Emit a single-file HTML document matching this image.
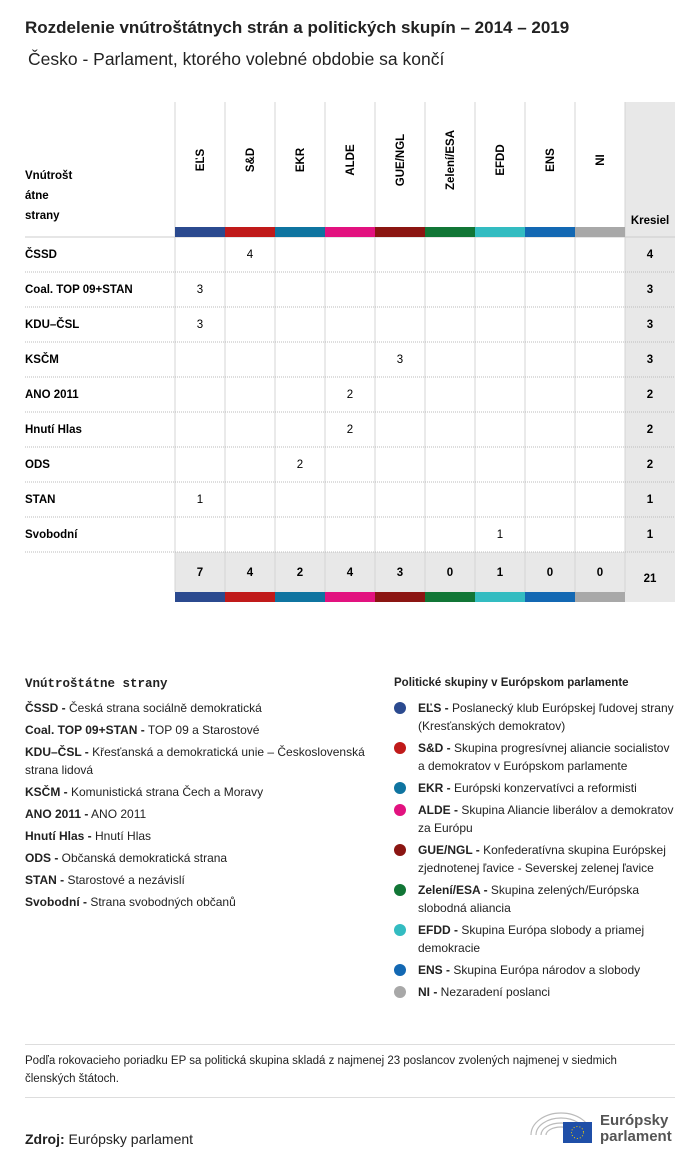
<!DOCTYPE html>
<html><head><meta charset="utf-8"><style>
body{margin:0;width:700px;height:1165px;background:#fff;font-family:"Liberation Sans",sans-serif;color:#222;position:relative;overflow:hidden}
.a{position:absolute}
.b{font-weight:bold}
.lg{font-size:12px;line-height:18px}
</style></head><body>
<div class="a b" style="left:25px;top:18px;font-size:17px">Rozdelenie vnútroštátnych strán a politických skupín – 2014 – 2019</div>
<div class="a" style="left:28px;top:49px;font-size:17.5px">Česko - Parlament, ktorého volebné obdobie sa končí</div>
<svg class="a" id="tbl" style="left:0;top:0" width="700" height="620"></svg>

<div class="a b" style="left:25px;top:677px;font-size:12.5px;font-family:'Liberation Mono',monospace">Vnútroštátne strany</div>
<div class="a lg" id="pl" style="left:25px;top:699px;width:345px"></div>
<div class="a b" style="left:394px;top:677px;font-size:11.5px">Politické skupiny v Európskom parlamente</div>
<div class="a lg" id="gl" style="left:394px;top:699px;width:284px"></div>

<div class="a" style="left:25px;top:1044px;width:650px;border-top:1px solid #ddd"></div>
<div class="a" style="left:25px;top:1052px;width:640px;font-size:11.5px;line-height:18px">Podľa rokovacieho poriadku EP sa politická skupina skladá z najmenej 23 poslancov zvolených najmenej v siedmich členských štátoch.</div>
<div class="a" style="left:25px;top:1097px;width:650px;border-top:1px solid #ddd"></div>
<div class="a" style="left:25px;top:1131px;font-size:14px"><b>Zdroj:</b> Európsky parlament</div>
<svg class="a" style="left:528px;top:1105px" width="150" height="40">
<g fill="none" stroke="#bbb" stroke-width="1.2"><path d="M3 30 A30 22 0 0 1 63 30"/><path d="M8 30 A25 17 0 0 1 58 30"/><path d="M13 30 A20 12 0 0 1 53 30"/><path d="M18 30 A15 8 0 0 1 48 30"/></g>
<rect x="35" y="17" width="29" height="21" fill="#1f4fa8"/>
<circle cx="49.5" cy="27.5" r="6" fill="none" stroke="#f5d000" stroke-dasharray="1 2"/>
<text x="72" y="20" font-size="15" font-weight="bold" fill="#555">Európsky</text>
<text x="72" y="36" font-size="15" font-weight="bold" fill="#555">parlament</text>
</svg>

<script>
const groups=["EĽS","S&D","EKR","ALDE","GUE/NGL","Zelení/ESA","EFDD","ENS","NI"];
const groupColors=["#2b4a8f","#c01a1a","#0f74a0","#e2127f","#8b1512","#117636","#33bcc1","#1368b3","#a8a8a8"];
const parties=["ČSSD","Coal. TOP 09+STAN","KDU–ČSL","KSČM","ANO 2011","Hnutí Hlas","ODS","STAN","Svobodní"];
const partyGroup=[1,0,0,4,3,3,2,0,6];
const partySeats=[4,3,3,3,2,2,2,1,1];
const partyNames=["Česká strana sociálně demokratická","TOP 09 a Starostové","Křesťanská a demokratická unie – Československá strana lidová","Komunistická strana Čech a Moravy","ANO 2011","Hnutí Hlas","Občanská demokratická strana","Starostové a nezávislí","Strana svobodných občanů"];
const groupNames=["Poslanecký klub Európskej ľudovej strany (Kresťanských demokratov)","Skupina progresívnej aliancie socialistov a demokratov v Európskom parlamente","Európski konzervatívci a reformisti","Skupina Aliancie liberálov a demokratov za Európu","Konfederatívna skupina Európskej zjednotenej ľavice - Severskej zelenej ľavice","Skupina zelených/Európska slobodná aliancia","Skupina Európa slobody a priamej demokracie","Skupina Európa národov a slobody","Nezaradení poslanci"];

const NS="http://www.w3.org/2000/svg",svg=document.getElementById('tbl');
function mk(t,at,txt){const e=document.createElementNS(NS,t);for(const k in at)e.setAttribute(k,at[k]);if(txt!=null)e.textContent=txt;svg.appendChild(e);return e;}
const colX=i=>175+i*50, rowY=j=>237+j*35, topY=102, bot=rowY(parties.length);
let e;
e=mk('rect',{x:625,y:topY,width:50,height:bot+50-topY,fill:'#e8e8e8'});

e=mk('rect',{x:175,y:bot,width:450,height:50,fill:'#e8e8e8'});

for(let i=0;i<=groups.length;i++){e=mk('line',{x1:colX(i),y1:topY,x2:colX(i),y2:bot+40,stroke:'#d4d4d4'});
}
e=mk('line',{x1:25,y1:237,x2:675,y2:237,stroke:'#ccc'});

for(let j=1;j<=parties.length;j++){e=mk('line',{x1:25,y1:rowY(j),x2:675,y2:rowY(j),stroke:'#bbb','stroke-dasharray':'1 1'});
}
['Vnútrošt','átne','strany'].forEach((t,k)=>{e=mk('text',{x:25,y:179+k*20,'font-size':11.5,'font-weight':'bold'},t);
});
e=mk('text',{x:650,y:224,'font-size':11.5,'font-weight':'bold','text-anchor':'middle'},'Kresiel');

const tot=groups.map(()=>0);
groups.forEach((g,i)=>{
 const cx=colX(i)+25;
 e=mk('text',{x:cx+4,y:160,'font-size':11.5,'font-weight':'bold','text-anchor':'middle',transform:`rotate(-90 ${cx+4} 160)`},g);
 
 e=mk('rect',{x:colX(i),y:227,width:50,height:10,fill:groupColors[i]});
 
 e=mk('rect',{x:colX(i),y:bot+40,width:50,height:10,fill:groupColors[i]});
 
});
parties.forEach((p,j)=>{
 const y=rowY(j)+21;
 e=mk('text',{x:25,y:y,'font-size':11.5,'font-weight':'bold'},p);
 
 e=mk('text',{x:colX(partyGroup[j])+25,y:y,'font-size':11.5,'text-anchor':'middle'},partySeats[j]);
 
 e=mk('text',{x:650,y:y,'font-size':11.5,'font-weight':'bold','text-anchor':'middle'},partySeats[j]);
 
 tot[partyGroup[j]]+=partySeats[j];
});
tot.forEach((t,i)=>{e=mk('text',{x:colX(i)+25,y:bot+24,'font-size':11.5,'font-weight':'bold','text-anchor':'middle'},t);
});
e=mk('text',{x:650,y:bot+30,'font-size':11.5,'font-weight':'bold','text-anchor':'middle'},tot.reduce((a,b)=>a+b,0));


const pl=document.getElementById('pl');
parties.forEach((p,j)=>{const d=document.createElement('div');


d.style.marginBottom='4px';d.innerHTML='<b>'+p+' -</b> '+partyNames[j];pl.appendChild(d);});
const gl=document.getElementById('gl');
groups.forEach((g,i)=>{const d=document.createElement('div');


d.style.cssText='position:relative;padding-left:24px;margin-bottom:4px';
d.innerHTML='<span style="position:absolute;left:0;top:3px;width:12px;height:12px;border-radius:50%;background:'+groupColors[i]+'"></span><b>'+g+' -</b> '+groupNames[i];gl.appendChild(d);});
</script>
</body></html>
